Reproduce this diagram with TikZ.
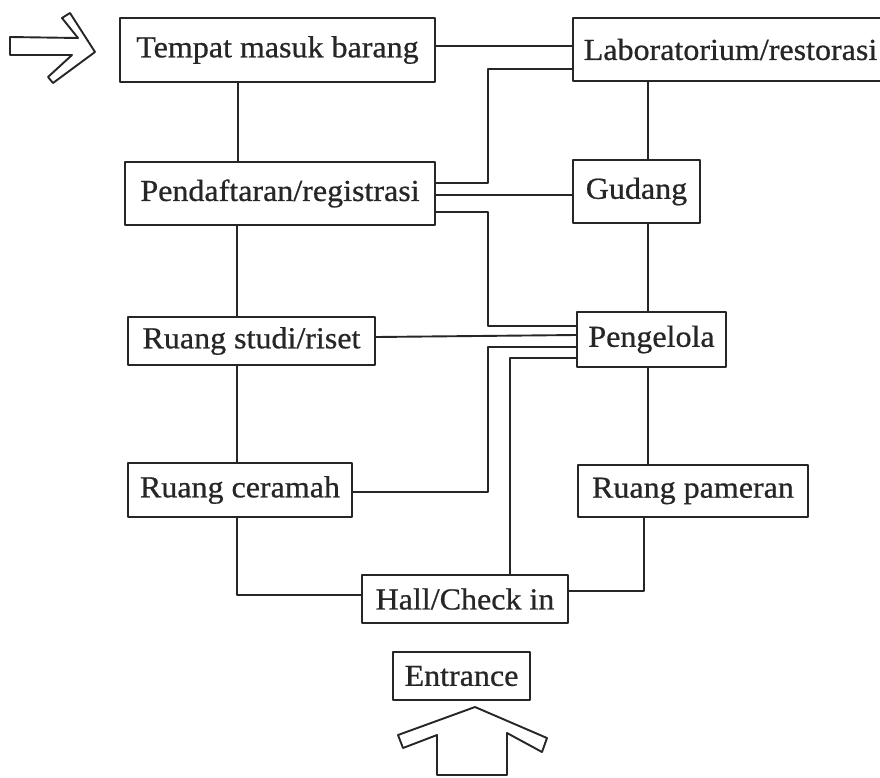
\documentclass[tikz,border=0pt]{standalone}
\usepackage{fontspec}
\setmainfont{Liberation Serif}[FakeStretch=1.05, FakeBold=0.7]

\tikzset{
    room/.style={draw, fill=white, line width=2.3pt, inner sep=0pt,
        font=\fontsize{30.5}{34}\selectfont},
    link/.style={line width=1.9pt},
    bigarrow/.style={line width=1.9pt, fill=white}
}

\begin{document}
\begin{tikzpicture}[x=1pt, y=-1pt, line join=round, line cap=round, color=black!85]

        % Fix the size of the page.
        \useasboundingbox[fill=white] (0,0) rectangle (880,777);
        \clip (0,0) rectangle (880,777);

        % The rooms, left column.
        \node[room, minimum width=315pt, minimum height=64pt] (tempat) at (277.5,50) {Tempat masuk barang};
        \node[room, minimum width=310pt, minimum height=63pt] (daftar) at (280,193.5) {Pendaftaran/registrasi};
        \node[room, minimum width=247pt, minimum height=48pt] (studi) at (251.5,341) {Ruang studi/riset};
        \node[room, minimum width=224pt, minimum height=54pt] (ceramah) at (240,490) {Ruang ceramah};

        % The rooms, right column.
        \node[room, minimum width=315pt, minimum height=63pt] (lab) at (730.5,49.5) {Laboratorium/restorasi};
        \node[room, minimum width=127pt, minimum height=63pt] (gudang) at (636.5,191.5) {Gudang};
        \node[room, minimum width=149pt, minimum height=55pt] (kelola) at (651.5,339.5) {Pengelola};
        \node[room, minimum width=230pt, minimum height=52pt] (pameran) at (693,491) {Ruang pameran};

        % Hall and entrance.
        \node[room, minimum width=206pt, minimum height=48pt] (hall) at (465,599) {Hall/Check in};
        \node[room, minimum width=137pt, minimum height=48pt] (entrance) at (461.5,676) {Entrance};

        % Vertical links of the left column.
        \draw[link] ([xshift=-39.5pt]tempat.south) -- ([xshift=-39.5pt]tempat.south |- daftar.north);
        \draw[link] ([xshift=-43pt]daftar.south) -- ([xshift=-43pt]daftar.south |- studi.north);
        \draw[link] ([xshift=-14.5pt]studi.south) -- ([xshift=-14.5pt]studi.south |- ceramah.north);
        \draw[link] ([xshift=-3pt]ceramah.south) |- ([yshift=4pt]hall.west);

        % Vertical links of the right column.
        \draw[link] ([xshift=-82.5pt]lab.south) -- ([xshift=-82.5pt]lab.south |- gudang.north);
        \draw[link] ([xshift=11.5pt]gudang.south) -- ([xshift=11.5pt]gudang.south |- kelola.north);
        \draw[link] ([xshift=-3.5pt]kelola.south) -- ([xshift=-3.5pt]kelola.south |- pameran.north);
        \draw[link] ([xshift=-49pt]pameran.south) |- ([yshift=8pt]hall.east);

        % Links across the two columns.
        \draw[link] ([yshift=4pt]tempat.east) -- ([yshift=4pt]tempat.east -| lab.west);
        \draw[link] ([yshift=-19.5pt]lab.west) -| ([xshift=52pt,yshift=10.5pt]daftar.east)
            -- ([yshift=10.5pt]daftar.east);
        \draw[link] ([yshift=-1.5pt]daftar.east) -- ([yshift=-1.5pt]daftar.east -| gudang.west);
        \draw[link] ([yshift=-18.5pt]daftar.east) -| ([xshift=-88pt,yshift=13.5pt]kelola.west)
            -- ([yshift=13.5pt]kelola.west);
        \draw[link] ([yshift=4pt]studi.east) -- ([yshift=4.5pt]kelola.west);
        \draw[link] ([yshift=-7.5pt]kelola.west) -| ([xshift=135pt,yshift=-2pt]ceramah.east)
            -- ([yshift=-2pt]ceramah.east);
        \draw[link] ([yshift=-18.5pt]kelola.west) -| ([xshift=45pt]hall.north);

        % Hollow arrow into the goods entry.
        \draw[bigarrow] (10,37) -- (78,38) -- (62,18) -- (70,13) -- (95,52)
            -- (53,83) -- (48,77) -- (72,55) -- (10,55) -- cycle;

        % Hollow arrow under the entrance.
        \draw[bigarrow] (475,707) -- (547,738) -- (542,752) -- (507,733) -- (507,775)
            -- (437,775) -- (437,735) -- (403,748) -- (398,735) -- cycle;
    \end{tikzpicture}
\end{document}
